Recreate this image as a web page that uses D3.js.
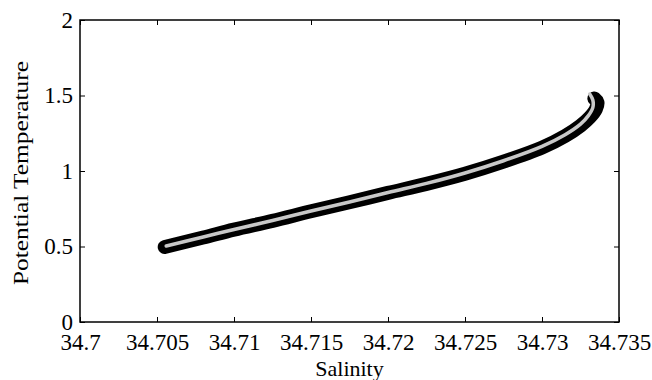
<!DOCTYPE html>
<html>
<head>
<meta charset="utf-8">
<script src="https://cdn.jsdelivr.net/npm/d3@7"></script>
<style>
  body { margin: 0; background: #fff; }
  svg { display: block; font-family: "Liberation Serif", "Times New Roman", serif; }
  .axis text { font-size: 23px; fill: #000; font-family: "Liberation Serif", serif; }
  .axis line { stroke: #000; stroke-width: 1; }
</style>
</head>
<body>
<svg id="chart"></svg>
<script>
// x / y axis tick values
const xTicks = [34.7, 34.705, 34.71, 34.715, 34.72, 34.725, 34.73, 34.735];
const yTicks = [0, 0.5, 1, 1.5, 2];

const obsSalinity = [34.7055, 34.7080, 34.7100, 34.7125, 34.7150, 34.7175, 34.7200, 34.7225, 34.7250, 34.7275, 34.7300, 34.7315, 34.7325, 34.7331, 34.7335, 34.7336, 34.7334];
const obsTheta    = [0.497,   0.560,   0.612,   0.670,   0.733,   0.793,   0.855,   0.915,   0.982,   1.062,   1.155,   1.232,   1.300,   1.355,   1.410,   1.455,   1.480];

// fitted curve (grey line)
const fitSalinity = [34.7056, 34.7080, 34.7100, 34.7125, 34.7150, 34.7175, 34.7200, 34.7225, 34.7250, 34.7275, 34.7300, 34.7315, 34.7325, 34.7330, 34.7333, 34.7333, 34.7331];
const fitTheta    = [0.503,   0.563,   0.613,   0.672,   0.735,   0.795,   0.858,   0.918,   0.987,   1.068,   1.163,   1.240,   1.310,   1.365,   1.420,   1.470,   1.510];

const width = 652, height = 380;
const margin = { top: 20, right: 33, bottom: 58, left: 80 };
const innerW = width - margin.left - margin.right;
const innerH = height - margin.top - margin.bottom;

const svg = d3.select('#chart').attr('width', width).attr('height', height);
const g = svg.append('g').attr('transform', `translate(${margin.left},${margin.top})`);

const x = d3.scaleLinear().domain([34.7, 34.735]).range([0, innerW]);
const y = d3.scaleLinear().domain([0, 2]).range([innerH, 0]);

const fmtX = d => String(+d.toFixed(3));

// Data lines
const obs = obsSalinity.map((s, i) => [s, obsTheta[i]]);
const fit = fitSalinity.map((s, i) => [s, fitTheta[i]]);
const line = d3.line().x(d => x(d[0])).y(d => y(d[1])).curve(d3.curveCatmullRom.alpha(0.5));

g.append('path')
  .datum(obs)
  .attr('d', line)
  .attr('fill', 'none')
  .attr('stroke', '#000')
  .attr('stroke-width', 14)
  .attr('stroke-linecap', 'round')
  .attr('stroke-linejoin', 'round');

g.append('path')
  .datum(fit)
  .attr('d', line)
  .attr('fill', 'none')
  .attr('stroke', '#c8c8c8')
  .attr('stroke-width', 3.5)
  .attr('stroke-linecap', 'round');

// Axes (ticks inward on all sides, like MATLAB)
g.append('g').attr('class', 'axis')
  .attr('transform', `translate(0,${innerH})`)
  .call(d3.axisBottom(x).tickValues(xTicks).tickFormat(fmtX).tickSizeInner(-5).tickSizeOuter(0).tickPadding(12))
  .call(a => a.select('.domain').remove());

g.append('g').attr('class', 'axis')
  .call(d3.axisTop(x).tickValues(xTicks).tickFormat('').tickSizeInner(-5).tickSizeOuter(0))
  .call(a => a.select('.domain').remove());

g.append('g').attr('class', 'axis')
  .call(d3.axisLeft(y).tickValues(yTicks).tickFormat(d => d).tickSizeInner(-5).tickSizeOuter(0).tickPadding(7))
  .call(a => a.select('.domain').remove());

g.append('g').attr('class', 'axis')
  .attr('transform', `translate(${innerW},0)`)
  .call(d3.axisRight(y).tickValues(yTicks).tickFormat('').tickSizeInner(-5).tickSizeOuter(0))
  .call(a => a.select('.domain').remove());

// Box
g.append('rect')
  .attr('width', innerW)
  .attr('height', innerH)
  .attr('fill', 'none')
  .attr('stroke', '#000')
  .attr('stroke-width', 1.5);

// Axis labels
svg.append('text')
  .attr('x', margin.left + innerW / 2)
  .attr('y', 376)
  .attr('text-anchor', 'middle')
  .style('font-size', '22px')
  .text('Salinity');

svg.append('text')
  .attr('transform', `translate(28,${margin.top + innerH / 2 + 2}) rotate(-90)`)
  .attr('text-anchor', 'middle')
  .attr('textLength', 224)
  .attr('lengthAdjust', 'spacingAndGlyphs')
  .style('font-size', '22px')
  .text('Potential Temperature');
</script>
</body>
</html>
